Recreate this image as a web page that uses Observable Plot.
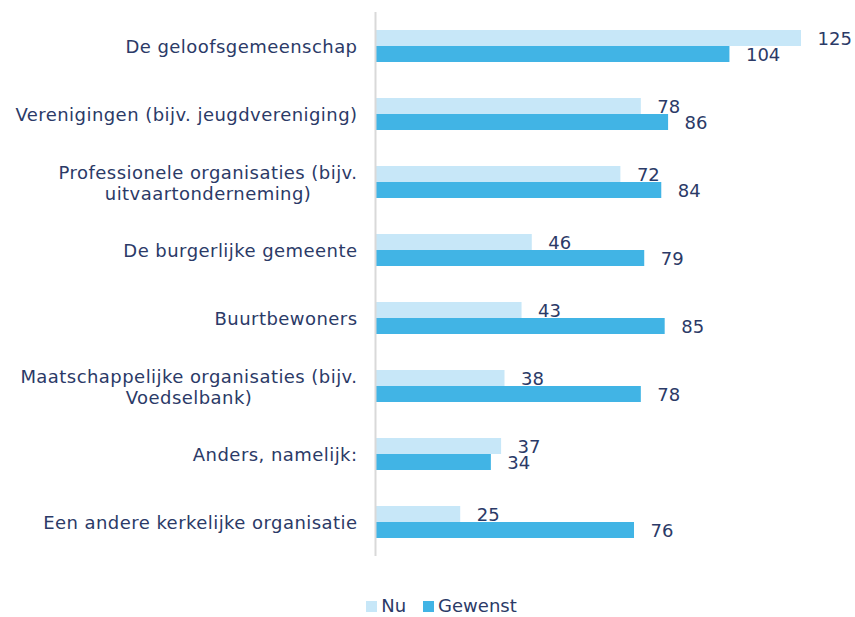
<!DOCTYPE html>
<html>
<head>
<meta charset="utf-8">
<script src="https://cdn.jsdelivr.net/npm/d3@7"></script>
<script src="https://cdn.jsdelivr.net/npm/@observablehq/plot@0.6"></script>
<style>
  body { margin: 0; background: #fff; font-family: "DejaVu Sans", Verdana, sans-serif; }
  #legend { display: flex; justify-content: center; align-items: center; gap: 17px; margin-top: 35px; padding-left: 28px; font-size: 18px; color: #2b3a67; line-height: 22px; }
  #legend span.sw { display: inline-block; width: 11px; height: 11px; margin-right: 4px; }
</style>
</head>
<body>
<div id="chart"></div>
<div id="legend"></div>
<script>
const categories = [
  "De geloofsgemeenschap",
  "Verenigingen (bijv. jeugdvereniging)",
  "Professionele organisaties (bijv.\nuitvaartonderneming)",
  "De burgerlijke gemeente",
  "Buurtbewoners",
  "Maatschappelijke organisaties (bijv.\nVoedselbank)",
  "Anders, namelijk:",
  "Een andere kerkelijke organisatie"
];
const series = ["Nu", "Gewenst"];
const nu = [125, 78, 72, 46, 43, 38, 37, 25];
const gewenst = [104, 86, 84, 79, 85, 78, 34, 76];
const colors = ["#c7e7f8", "#41b4e5"];
const textColor = "#2b3a67";

const data = [];
categories.forEach((c, i) => {
  data.push({category: c, series: "Nu", value: nu[i]});
  data.push({category: c, series: "Gewenst", value: gewenst[i]});
});

const chart = Plot.plot({
  width: 855,
  height: 560,
  marginLeft: 375,
  marginRight: 54,
  marginTop: 10,
  marginBottom: 2,
  style: {fontFamily: "DejaVu Sans, Verdana, sans-serif", fontSize: "18px", color: textColor},
  x: {domain: [0, 125], axis: null},
  y: {domain: series, axis: null, paddingInner: 0, paddingOuter: 1.08},
  fy: {domain: categories, axis: null, padding: 0},
  color: {domain: series, range: colors},
  marks: [
    Plot.barX(data, {x: "value", y: "series", fy: "category", fill: "series"}),
    Plot.ruleX([0], {stroke: "#d9d9d9", strokeWidth: 2}),
    Plot.text(data, {x: "value", y: "series", fy: "category", text: d => String(d.value), textAnchor: "start", dx: 16, dy: 1, fill: textColor, fontSize: 18}),
    Plot.text(categories, {fy: d => d, text: d => d, frameAnchor: "left", textAnchor: "end", dx: -18, lineHeight: 1.17, fill: textColor, fontSize: 18})
  ]
});
document.getElementById("chart").appendChild(chart);

// Category labels: slightly wider tracking, and centre lines of multi-line labels
const textGroups = chart.querySelectorAll('g[aria-label="text"]');
const labelGroup = textGroups[textGroups.length - 1];
labelGroup.style.letterSpacing = "0.45px";
labelGroup.querySelectorAll("text").forEach(t => {
  const spans = t.querySelectorAll("tspan");
  if (spans.length > 1) {
    let maxW = 0;
    spans.forEach(s => { maxW = Math.max(maxW, s.getComputedTextLength()); });
    t.setAttribute("text-anchor", "middle");
    spans.forEach(s => s.setAttribute("x", String(-maxW / 2)));
  }
});

const legend = document.getElementById("legend");
series.forEach((s, i) => {
  const item = document.createElement("div");
  item.style.display = "flex";
  item.style.alignItems = "center";
  const sw = document.createElement("span");
  sw.className = "sw";
  sw.style.background = colors[i];
  item.appendChild(sw);
  item.appendChild(document.createTextNode(s));
  legend.appendChild(item);
});
</script>
</body>
</html>
